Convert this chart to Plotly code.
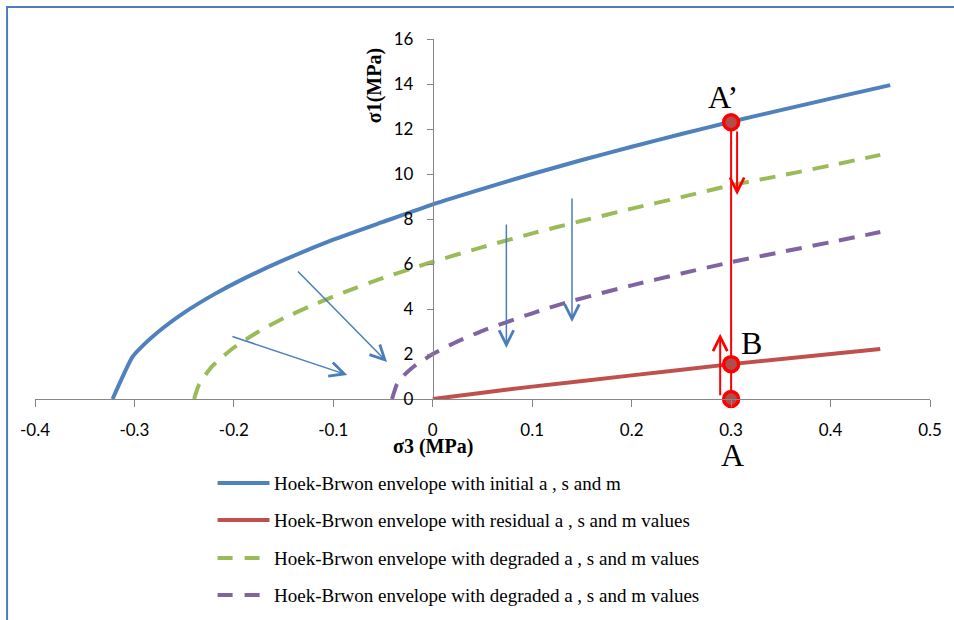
import plotly.graph_objects as go

# ---- envelope data: sigma3 (MPa) vs sigma1 (MPa) ----
s3_initial = [-0.322, -0.302, -0.29, -0.27, -0.25, -0.22, -0.19, -0.15, -0.10, -0.05,
              0.00, 0.05, 0.10, 0.15, 0.20, 0.25, 0.30, 0.35, 0.40, 0.46]
s1_initial = [0.0, 1.87, 2.44, 3.2, 3.84, 4.65, 5.35, 6.17, 7.08, 7.87,
              8.65, 9.34, 10.0, 10.62, 11.21, 11.78, 12.32, 12.84, 13.35, 13.95]

s3_residual = [0.00, 0.05, 0.10, 0.20, 0.30, 0.45]
s1_residual = [0.0, 0.28, 0.55, 1.05, 1.55, 2.22]

s3_degraded1 = [-0.24, -0.235, -0.222, -0.20, -0.175, -0.15, -0.12, -0.09, -0.05, -0.02,
                0.00, 0.05, 0.10, 0.15, 0.20, 0.25, 0.30, 0.35, 0.40, 0.45]
s1_degraded1 = [0.0, 0.65, 1.45, 2.29, 3.0, 3.59, 4.19, 4.73, 5.38, 5.82,
                6.1, 6.75, 7.36, 7.92, 8.46, 8.97, 9.5, 9.93, 10.38, 10.85]

s3_degraded2 = [-0.041, -0.036, -0.03, -0.02, 0.00, 0.025, 0.05, 0.10, 0.14, 0.20,
                0.25, 0.30, 0.35, 0.40, 0.45]
s1_degraded2 = [0.0, 0.66, 1.01, 1.41, 2.0, 2.56, 3.03, 3.81, 4.36, 5.05,
                5.58, 6.08, 6.53, 6.97, 7.42]

series_names = [
    "Hoek-Brwon envelope with initial a , s and m",
    "Hoek-Brwon envelope with residual a , s and m values",
    "Hoek-Brwon envelope with degraded a , s and m values",
    "Hoek-Brwon envelope with degraded a , s and m values",
]
series_colors = ["#4f81bd", "#c0504d", "#9bbb59", "#8064a2"]
series_dash = ["solid", "solid", "16px,11px", "16px,11px"]

# stress states A, B, A'
point_labels = ["A", "B", "A\u2019"]
point_s3 = [0.3, 0.3, 0.3]
point_s1 = [0.0, 1.55, 12.3]

# arrows: (tail sigma3, tail sigma1, head sigma3, head sigma1)
blue_arrows = [
    (-0.137, 5.73, -0.046, 1.64),
    (-0.203, 2.80, -0.086, 1.07),
    (0.074, 7.82, 0.074, 2.27),
    (0.140, 8.98, 0.140, 3.42),
]
red_arrows = [
    (0.306, 11.96, 0.306, 9.07),
    (0.289, 0.10, 0.289, 2.90),
]

x_range = [-0.4, 0.5]
y_range = [0, 16]
x_ticks = [-0.4, -0.3, -0.2, -0.1, 0, 0.1, 0.2, 0.3, 0.4, 0.5]
x_ticktext = ["-0.4", "-0.3", "-0.2", "-0.1", "0", "0.1", "0.2", "0.3", "0.4", "0.5"]
y_ticks = [0, 2, 4, 6, 8, 10, 12, 14, 16]

# ---- canvas geometry ----
W, H = 954, 620
ML, MR, MT, MB = 35, 22, 39, 221
PW, PH = W - ML - MR, H - MT - MB


def px_x(px):
    return (px - ML) / PW


def px_y(py):
    return (H - MB - py) / PH


SERIF = "Liberation Serif"
SANS = "Lato"
AXIS_GREY = "#868686"

fig = go.Figure()

curves = [
    (s3_initial, s1_initial),
    (s3_residual, s1_residual),
    (s3_degraded1, s1_degraded1),
    (s3_degraded2, s1_degraded2),
]
for (xs, ys), name, col, dash in zip(curves, series_names, series_colors, series_dash):
    fig.add_trace(go.Scatter(
        x=xs, y=ys, mode="lines", name=name, showlegend=False,
        line=dict(color=col, width=4, dash=dash, shape="spline", smoothing=0.5),
    ))

# vertical stress path through A, B, A'
fig.add_trace(go.Scatter(
    x=[point_s3[0], point_s3[2]], y=[point_s1[0], point_s1[2]],
    mode="lines", showlegend=False, line=dict(color="#ff0000", width=2),
))

fig.add_trace(go.Scatter(
    x=point_s3, y=point_s1, mode="markers", showlegend=False, cliponaxis=False,
    marker=dict(size=15, color="#b04e4c", line=dict(color="#ff0000", width=3.5)),
))

annotations = []
for (tx, ty, hx, hy) in blue_arrows:
    annotations.append(dict(
        x=hx, y=hy, ax=tx, ay=ty, xref="x", yref="y", axref="x", ayref="y",
        text="", showarrow=True, arrowhead=5, arrowsize=1.9, arrowwidth=1.5,
        arrowcolor="#4a7ebb", standoff=0,
    ))
for (tx, ty, hx, hy) in red_arrows:
    annotations.append(dict(
        x=hx, y=hy, ax=tx, ay=ty, xref="x", yref="y", axref="x", ayref="y",
        text="", showarrow=True, arrowhead=5, arrowsize=1.4, arrowwidth=2,
        arrowcolor="#ff0000", standoff=0,
    ))

# point letters (pixel positions of the glyph centres)
label_pos = {"A": (734, 455), "B": (753, 343), "A\u2019": (725, 97)}
for lab in point_labels:
    lx, ly = label_pos[lab]
    annotations.append(dict(
        x=px_x(lx), y=px_y(ly), xref="paper", yref="paper", text=lab, showarrow=False,
        xanchor="center", yanchor="middle",
        font=dict(family=SERIF, size=32, color="#000000"),
    ))

# axis titles
annotations.append(dict(
    x=px_x(434), y=px_y(446), xref="paper", yref="paper", text="<b>\u03c33 (MPa)</b>",
    showarrow=False, xanchor="center", yanchor="middle",
    font=dict(family=SERIF, size=20, color="#000000"),
))
annotations.append(dict(
    x=px_x(375), y=px_y(86), xref="paper", yref="paper", text="<b>\u03c31(MPa)</b>",
    showarrow=False, xanchor="center", yanchor="middle", textangle=-90,
    font=dict(family=SERIF, size=20, color="#000000"),
))

# legend drawn below the plot
shapes = []
legend_rows = [483, 520, 558, 595]
for name, col, dash, row in zip(series_names, series_colors, series_dash, legend_rows):
    shapes.append(dict(
        type="line", xref="paper", yref="paper",
        x0=px_x(218), x1=px_x(270), y0=px_y(row), y1=px_y(row),
        line=dict(color=col, width=4, dash=("15px,12px" if dash != "solid" else "solid")),
    ))
    annotations.append(dict(
        x=px_x(273), y=px_y(row), xref="paper", yref="paper", text=name,
        showarrow=False, xanchor="left", yanchor="middle",
        font=dict(family=SERIF, size=19, color="#000000"),
    ))

# chart-area frame
shapes.append(dict(
    type="rect", xref="paper", yref="paper", layer="below",
    x0=px_x(7), x1=px_x(W + 10), y0=px_y(H + 10), y1=px_y(7),
    line=dict(color="#4a7ebb", width=2), fillcolor="rgba(0,0,0,0)",
))

fig.update_layout(
    width=W, height=H,
    margin=dict(l=ML, r=MR, t=MT, b=MB),
    paper_bgcolor="white", plot_bgcolor="white",
    showlegend=False,
    annotations=annotations,
    shapes=shapes,
    xaxis=dict(
        range=x_range, tickmode="array", tickvals=x_ticks, ticktext=x_ticktext,
        showgrid=False, zeroline=False, showline=True, linecolor=AXIS_GREY, linewidth=1,
        ticks="outside", ticklen=7, tickcolor=AXIS_GREY, tickwidth=1,
        tickfont=dict(family=SANS, size=17, color="#000000"),
        ticklabelstandoff=9, domain=[0, 1],
    ),
    yaxis=dict(
        range=y_range, tickmode="array", tickvals=y_ticks,
        showgrid=False, zeroline=False, showline=True, linecolor=AXIS_GREY, linewidth=1,
        ticks="outside", ticklen=6, tickcolor=AXIS_GREY, tickwidth=1,
        tickfont=dict(family=SANS, size=17, color="#000000"),
        anchor="free", position=(0 - x_range[0]) / (x_range[1] - x_range[0]),
        ticklabelstandoff=10,
    ),
)

fig.write_html("out.html")
